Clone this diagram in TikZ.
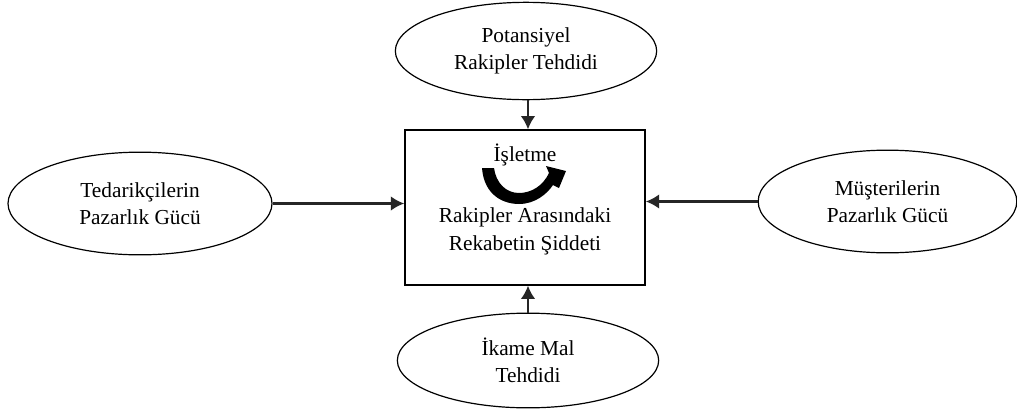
\documentclass[tikz,border=0pt]{standalone}
\usepackage{fontspec}
\setmainfont{Liberation Serif}
\usetikzlibrary{shapes.geometric,arrows.meta}

\begin{document}
\begin{tikzpicture}[x=0.75pt,y=-0.75pt,
  force/.style={draw,ellipse,line width=0.9pt,inner sep=0pt,align=center,
    font=\fontsize{16}{20.5}\selectfont},
  firm/.style={draw,rectangle,line width=1.2pt,minimum width=180pt,minimum height=116pt},
  push/.style={->,>={Latex[length=10pt,width=11pt]},line width=1.7pt,black!85}]

\useasboundingbox (0,0) rectangle (1017,411);

% Five forces around the firm
\node[firm] (rekabet) at (525,207.5) {};
\node[force,minimum width=196pt,minimum height=73pt] (potansiyel) at (526,51)
  {Potansiyel\\Rakipler Tehdidi};
\node[force,minimum width=196pt,minimum height=71pt] (ikame) at (528,360.5)
  {İkame Mal\\Tehdidi};
\node[force,minimum width=198pt,minimum height=77pt] (tedarikci) at (140,203.5)
  {Tedarikçilerin\\Pazarlık Gücü};
\node[force,minimum width=194pt,minimum height=77pt] (musteri) at (887.5,201.5)
  {Müşterilerin\\Pazarlık Gücü};

% Text inside the box
\node[font=\fontsize{16}{20.5}\selectfont] (isletme) at (525,155) {İşletme};
\node[align=center,font=\fontsize{16}{20.5}\selectfont] (rakipler) at (525,231.5)
  {Rakipler Arasındaki\\Rekabetin Şiddeti};

% Curved arrow
\fill[black] (482,168) .. controls (484,195) and (503,204) .. (519,204)
  .. controls (535,204) and (547,194) .. (553,185) -- (559,188) -- (566,171)
  -- (546,166) -- (549,173) .. controls (543,186) and (531,193) .. (519,193)
  .. controls (506,193) and (496,183) .. (494,168) -- cycle;

% Arrows into the box
\draw[push] (potansiyel.south -| 528,0) -- (rekabet.north -| 528,0);
\draw[push] (ikame.north) -- (rekabet.south -| ikame.north);
\draw[push] (tedarikci.east) -- (rekabet.west |- tedarikci.east);
\draw[push] (musteri.west) -- (rekabet.east |- musteri.west);

\end{tikzpicture}
\end{document}
